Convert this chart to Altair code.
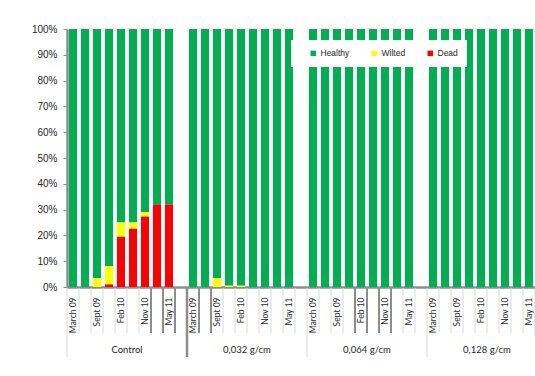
import altair as alt
import pandas as pd

groups = ["Control", "0,032 g/cm", "0,064 g/cm", "0,128 g/cm"]
slot_labels = ["March 09", "", "Sept 09", "", "Feb 10", "", "Nov 10", "", "May 11", ""]
statuses = ["Healthy", "Wilted", "Dead"]
colors = ["#00B050", "#FFFF00", "#FF0000"]

# percentages per group and date slot (None = no bar in that slot)
healthy = [
    [100, 100, 96.6, 92, 75, 75, 71, 68, 68, None],
    [100, 100, 96.6, 99.5, 99.5, 100, 100, 100, 100, None],
    [100, 100, 100, 100, 100, 100, 100, 100, 100, None],
    [100, 100, 100, 100, 100, 100, 100, 100, 100, None],
]
wilted = [
    [0, 0, 3.4, 7, 5.5, 2.4, 1.7, 0, 0, None],
    [0, 0, 3.4, 0.5, 0.5, 0, 0, 0, 0, None],
    [0, 0, 0, 0, 0, 0, 0, 0, 0, None],
    [0, 0, 0, 0, 0, 0, 0, 0, 0, None],
]
dead = [
    [0, 0, 0, 1, 19.5, 22.6, 27.3, 32, 32, None],
    [0, 0, 0, 0, 0, 0, 0, 0, 0, None],
    [0, 0, 0, 0, 0, 0, 0, 0, 0, None],
    [0, 0, 0, 0, 0, 0, 0, 0, 0, None],
]
y_ticks = [0, 0.1, 0.2, 0.3, 0.4, 0.5, 0.6, 0.7, 0.8, 0.9, 1.0]

# category separators on the axis (boundary index between slots)
dark_boundaries = [7, 8, 9, 11, 12, 24, 25, 26, 27]
group_boundaries_dark = [10]
group_boundaries_light = [0, 20, 30, 40]

n_slots = len(slot_labels)
keys = [f"{g}|{i}" for g in groups for i in range(n_slots)]

rows = []
order_of = {"Dead": 0, "Wilted": 1, "Healthy": 2}
for gi, g in enumerate(groups):
    for i in range(n_slots):
        for s, vals in zip(statuses, [healthy, wilted, dead]):
            v = vals[gi][i]
            if v is None:
                continue
            rows.append({"key": f"{g}|{i}", "status": s, "value": v, "ord": order_of[s]})
df = pd.DataFrame(rows)

label_array = "[" + ",".join("'" + s + "'" for s in slot_labels) + "]"
label_expr = label_array + "[toNumber(split(datum.value,'|')[1])]"

W, H = 468, 258       # visible plot width (chart is cut at the right like the original)
RANGE = 480           # full category range, runs past the right edge
total_slots = len(keys)

bars = alt.Chart(df).mark_bar().encode(
    x=alt.X("key:N", sort=keys,
            scale=alt.Scale(domain=keys, range=[0, RANGE],
                            paddingInner=0.333, paddingOuter=0.1667),
            axis=alt.Axis(title=None, ticks=False, tickSize=0, domain=True,
                          domainColor="#8c8c8c", domainWidth=2.5,
                          labelAngle=-90, labelPadding=10, labelExpr=label_expr,
                          labelFont="Lato", labelFontSize=8.5, labelColor="#262626",
                          grid=False)),
    y=alt.Y("value:Q", stack="normalize",
            scale=alt.Scale(domain=[0, 1]),
            axis=alt.Axis(title=None, format="%", values=y_ticks, grid=False,
                          domainColor="#8c8c8c", domainWidth=2.5,
                          tickColor="#8c8c8c", tickSize=4, labelPadding=6,
                          labelFont="Liberation Sans", labelFontSize=10,
                          labelColor="#262626")),
    color=alt.Color("status:N", title=None,
                    scale=alt.Scale(domain=statuses, range=colors),
                    legend=alt.Legend(orient="none", legendX=224, legendY=11,
                                      direction="horizontal", columns=3,
                                      fillColor="white", padding=9,
                                      symbolOffset=9,
                                      columnPadding=11, symbolType="square",
                                      symbolSize=30, symbolStrokeWidth=0,
                                      labelFont="Liberation Sans", labelFontSize=8.5,
                                      labelColor="#262626", labelOffset=3)),
    order=alt.Order("ord:Q"),
)

sep_all = [b for b in range(total_slots + 1)]
short_light = [b for b in sep_all if b not in dark_boundaries
               and b not in group_boundaries_dark and b not in group_boundaries_light]
sep_scale = alt.Scale(domain=[0, total_slots], range=[0, RANGE], nice=False, zero=False)


def rules(vals, color, width, y2):
    d = pd.DataFrame({"b": vals})
    return alt.Chart(d).mark_rule(color=color, strokeWidth=width).encode(
        x=alt.X("b:Q", scale=sep_scale, axis=None),
        y=alt.value(H + 1),
        y2=alt.value(y2),
    )


r1 = rules(short_light, "#d9d9d9", 1, H + 46)
r2 = rules(dark_boundaries, "#8c8c8c", 2, H + 46)
r3 = rules(group_boundaries_light, "#d9d9d9", 1, H + 70)
r4 = rules(group_boundaries_dark, "#8c8c8c", 2.5, H + 70)

gdf = pd.DataFrame({"g": groups, "center": [gi * n_slots + n_slots / 2 for gi in range(len(groups))]})
glabels = alt.Chart(gdf).mark_text(font="Lato", fontSize=9.5, color="#262626").encode(
    x=alt.X("center:Q", scale=sep_scale, axis=None),
    y=alt.value(H + 63),
    text="g:N",
)

chart = alt.layer(bars, r1, r2, r3, r4, glabels).resolve_scale(
    x="independent"
).properties(
    width=W, height=H,
    autosize=alt.AutoSizeParams(type="none"),
    padding={"left": 67, "top": 29, "right": 0, "bottom": 89},
    background="white",
).configure_view(strokeWidth=0)

chart.save("out.html", embed_options={"renderer": "svg", "actions": False})
